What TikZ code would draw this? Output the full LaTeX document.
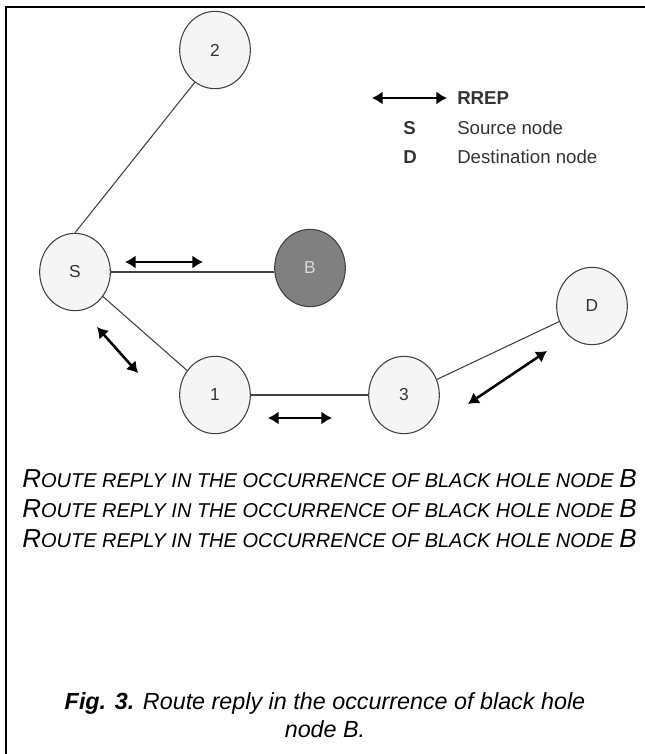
\documentclass[tikz,border=0pt]{standalone}
\usepackage{fontspec}
\setmainfont{Liberation Sans}
\usetikzlibrary{arrows.meta,shapes.geometric}

\newcommand{\capline}{{\fontsize{19.5}{22}\selectfont R}{\fontsize{15}{17}\selectfont OUTE REPLY IN THE OCCURRENCE OF BLACK HOLE NODE }{\fontsize{19.5}{22}\selectfont B}}

\begin{document}
\begin{tikzpicture}[x=0.75pt,y=-0.75pt,
  vertex/.style={ellipse,draw=black!75,fill=gray!8,line width=.8pt,minimum width=53pt,minimum height=58pt,inner sep=0pt,font=\fontsize{13}{15}\selectfont,text=black!80},
  rogue/.style={vertex,fill=black!50,text=white!85!black},
  link/.style={draw=black!75,line width=.8pt},
  reply/.style={{Latex[length=8pt,width=10pt]}-{Latex[length=8pt,width=10pt]},line width=1.9pt},
  legtext/.style={anchor=west,inner sep=0pt,font=\fontsize{14}{16}\selectfont,text=black!80},
  legkey/.style={legtext,font=\fontsize{14}{16}\selectfont\bfseries},
  capsline/.style={anchor=base west,inner sep=0pt,font=\itshape}
]
\useasboundingbox (0,0) rectangle (645,754);
% frame
\draw[line width=2.2pt] (6,754) -- (6,7);
\draw[line width=1.5pt] (5,7) -- (645,7);

\node[vertex] (n2) at (215,50) {2};
\node[vertex] (S) at (75,272) {S};
\node[rogue] (B) at (310,268) {B};
\node[vertex] (n1) at (215,395) {1};
\node[vertex] (n3) at (404,395) {3};
\node[vertex] (D) at (592,306) {D};

\draw[link] (S.north) -- (n2.238);
\draw[link] (S.east) -- (S.east -| B.west);
\draw[link] (S) -- (n1);
\draw[link] (n1) -- (n3);
\draw[link] (n3) -- (D);

% route reply arrows
\coordinate (r1a) at (125,262);
\coordinate (r1b) at (203,262);
\coordinate (r2a) at (97,327);
\coordinate (r2b) at (138,373);
\coordinate (r3a) at (268,418);
\coordinate (r3b) at (332,418);
\coordinate (r4a) at (468,404);
\coordinate (r4b) at (547,351);
\draw[reply] (r1a) -- (r1b);
\draw[reply] (r2a) -- (r2b);
\draw[reply] (r3a) -- (r3b);
\draw[reply] (r4a) -- (r4b);

% legend
\coordinate (la) at (372,98);
\coordinate (lb) at (447,98);
\draw[reply] (la) -- (lb);
\node[legkey] (rrep) at (457,98) {RREP};
\node[legkey] (ks) at (403,128) {S};
\node[legtext] (ls) at (457,128) {Source node};
\node[legkey] (kd) at (403,157) {D};
\node[legtext] (ld) at (457,157) {Destination node};

% caption lines
\foreach \k/\yy in {1/487,2/517,3/547}
  \node[capsline] (cap\k) at (22,\yy) {\capline};
\node[font=\fontsize{17.5}{20}\selectfont\itshape] (fig) at (325,703) {\textbf{Fig. 3.} Route reply in the occurrence of black hole};
\node[font=\fontsize{17.5}{20}\selectfont\itshape] (fig2) at (325,729) {node B.};
\end{tikzpicture}
\end{document}
